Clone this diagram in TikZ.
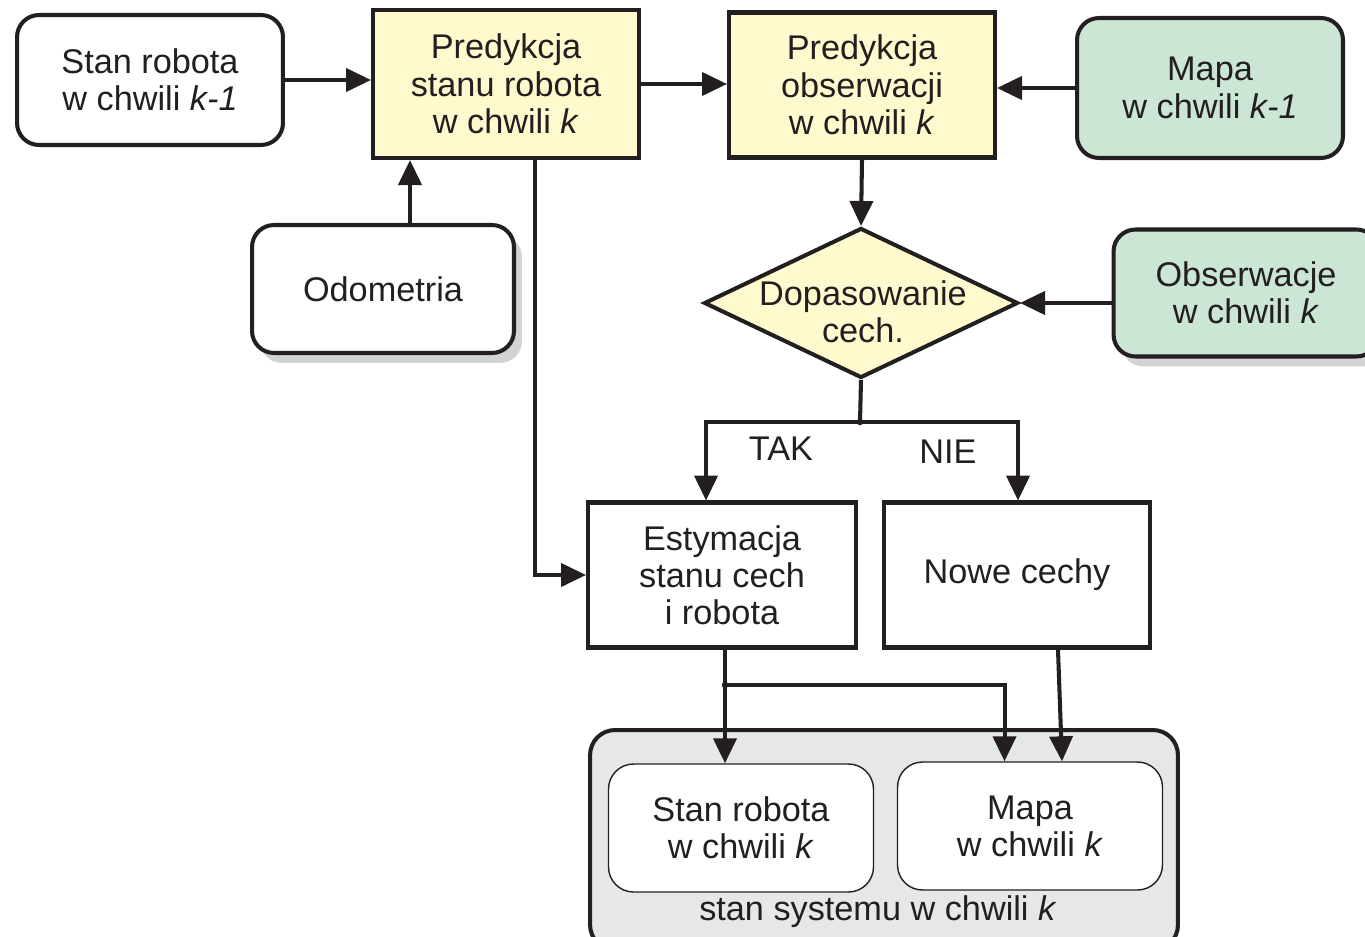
\documentclass[tikz,border=0pt]{standalone}
\usepackage{fontspec}
\setmainfont{Liberation Sans}
\usetikzlibrary{arrows.meta,shapes.geometric,shadows}
\definecolor{ink}{HTML}{231F20}
\definecolor{predfill}{HTML}{FFF9CE}
\definecolor{inputfill}{HTML}{CBE6D5}
\definecolor{sysfill}{HTML}{E6E7E8}
\definecolor{shade}{HTML}{D1D3D4}
\tikzset{ r/.style = { rectangle % rounded input
        , rounded corners = 0.44cm
        , line width = 2.3pt
        , draw = ink
        , fill = white
        , minimum width = 5.32cm
        , minimum height = 2.6cm
        , align = center
        }
        , p/.style = { rectangle % process step
        , line width = 2.3pt
        , draw = ink
        , minimum width = 5.32cm
        , minimum height = 2.9cm
        , align = center
        }
        , s/.style = { rectangle % part of system state
        , rounded corners = 0.5cm
        , line width = 0.8pt
        , draw = ink
        , fill = white
        , minimum width = 5.3cm
        , minimum height = 2.56cm
        , align = center
        }
        , sh/.style = { drop shadow = {shadow xshift=0.16cm, shadow yshift=-0.2cm, fill=shade, opacity=1} % shadow
        }
        }

\begin{document}
\begin{tikzpicture}[x=0.02cm, y=-0.02cm,
        every node/.append style={font=\fontsize{19.5}{21.2}\selectfont, text=ink},
        edge_style/.style={draw=ink, line width=2.3pt, -{Triangle[length=0.5cm,width=0.46cm]}},
        line_style/.style={draw=ink, line width=2.3pt},
        dot_style/.style={circle, fill=ink, inner sep=0pt, minimum size=0.13cm}]
        \useasboundingbox (0,0) rectangle (1365,936);

        \node [r] (stank1) at (150,80) {Stan robota\\w chwili \textit{k-1}};
        \node [p, fill=predfill, minimum height=2.96cm] (predstan) at (506,84) {Predykcja\\stanu robota\\w chwili \textit{k}};
        \node [p, fill=predfill] (predobs) at (862,85) {Predykcja\\obserwacji\\w chwili \textit{k}};
        \node [r, fill=inputfill, minimum height=2.8cm] (mapak1) at (1210,88) {Mapa\\w chwili \textit{k-1}};
        \node [r, sh, minimum width=5.24cm, minimum height=2.56cm] (odom) at (383,289) {Odometria};
        \node [diamond, draw=ink, fill=predfill, line width=2.3pt, inner sep=0pt,
               minimum width=6.28cm, minimum height=3cm] (dopas) at (861,303) {};
        \node [align=center] (dopastxt) at (863,312) {Dopasowanie\\cech.};
        \node [r, sh, fill=inputfill, minimum width=5.3cm, minimum height=2.54cm] (obs) at (1246,293) {Obserwacje\\w chwili \textit{k}};
        \node [p, minimum width=5.36cm] (estym) at (722,575) {Estymacja\\stanu cech\\i robota};
        \node [p] (nowe) at (1017,575) {Nowe cechy};

        \node [rectangle, rounded corners=0.5cm, line width=2.3pt, draw=ink, fill=sysfill,
               minimum width=11.76cm, minimum height=4.4cm] (system) at (884,840) {};
        \node [s] (stank) at (741,828) {Stan robota\\w chwili \textit{k}};
        \node [s] (mapak) at (1030,826) {Mapa\\w chwili \textit{k}};
        \node (systemtxt) at (878,912) {stan systemu w chwili \textit{k}};

        \node (tak) at (781,449) {TAK};
        \node (nie) at (948,452) {NIE};

        \coordinate (odomout) at ([xshift=0.54cm]odom.north);
        \coordinate (predout) at ([xshift=0.58cm]predstan.south);
        \coordinate (split) at (860,422);
        \coordinate (takin) at ([xshift=-0.32cm]estym.north);
        \coordinate (niein) at ([xshift=0.02cm]nowe.north);
        \coordinate (estymout) at ([xshift=0.06cm]estym.south);
        \coordinate (merge) at (725,685);
        \coordinate (mapin) at ([xshift=-0.51cm]mapak.north);
        \coordinate (noweout) at ([xshift=0.82cm]nowe.south);
        \coordinate (mapin2) at ([xshift=0.64cm]mapak.north);

        \draw [edge_style] (stank1.east) -- (stank1.east -| predstan.west);
        \draw [edge_style] (predstan.east) -- (predstan.east -| predobs.west);
        \draw [edge_style] (mapak1.west) -- (mapak1.west -| predobs.east);
        \draw [edge_style] (odomout) -- (odomout |- predstan.south);
        \draw [edge_style] (predobs.south) -- (dopas.north);
        \draw [edge_style] (obs.west |- dopas.east) -- (dopas.east);
        \draw [line_style] (dopas.south) -- (split);
        \draw [edge_style] (split) -| (takin);
        \draw [edge_style] (split) -| (niein);
        \node [dot_style] (splitdot) at (split) {};
        \draw [edge_style] (predout) |- (estym.west);
        \draw [edge_style] (estymout) -- (estymout |- stank.north);
        \draw [edge_style] (merge) -| (mapin);
        \node [dot_style] (mergedot) at (merge) {};
        \draw [edge_style] (noweout) -- (mapin2);

\end{tikzpicture}
\end{document}
